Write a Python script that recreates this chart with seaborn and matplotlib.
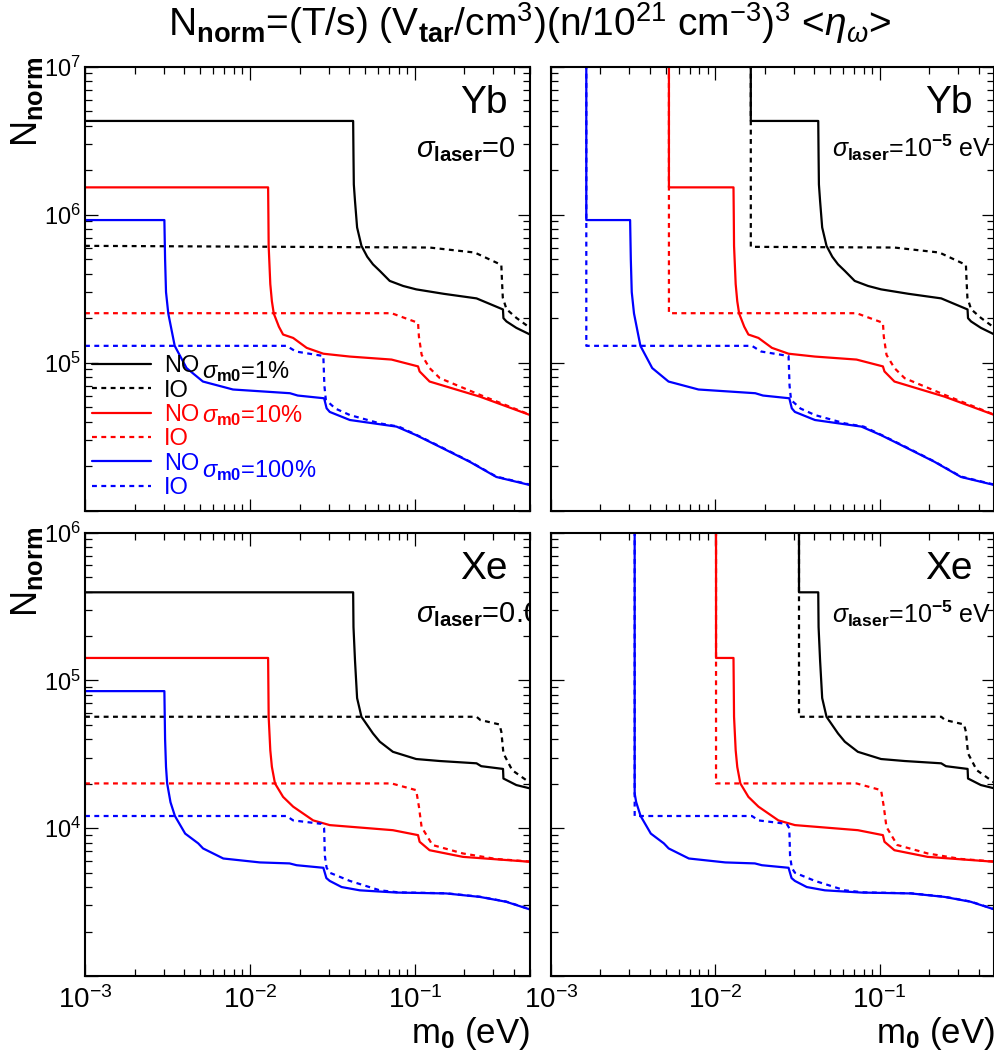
import numpy as np
import matplotlib
matplotlib.use('Agg')
import matplotlib.pyplot as plt
import seaborn as sns
from matplotlib.ticker import LogLocator, NullFormatter

# --- Yb, sigma_laser = 0 ---
yb_k_no_x = [1e-3, 0.0423, 0.0425, 0.0427, 0.0434, 0.0447, 0.0475, 0.0515, 0.0558, 0.0614, 0.0705, 0.085,
             0.102, 0.15, 0.237, 0.3427, 0.345, 0.36, 0.413, 0.5]
yb_k_no_y = [4.3e6, 4.3e6, 2.5e6, 1.6e6, 1.24e6, 8.2e5, 6.16e5, 5.2e5, 4.62e5, 4.17e5, 3.57e5, 3.3e5,
             3.13e5, 2.92e5, 2.72e5, 2.29e5, 2.0e5, 1.9e5, 1.72e5, 1.55e5]
yb_k_io_x = [1e-3, 0.123, 0.231, 0.335, 0.338, 0.342, 0.36, 0.413, 0.5]
yb_k_io_y = [6.16e5, 6.0e5, 5.55e5, 4.58e5, 3.6e5, 2.75e5, 2.3e5, 2.01e5, 1.72e5]
yb_r_no_x = [1e-3, 0.0129, 0.01295, 0.0130, 0.0133, 0.0136, 0.01396, 0.0150, 0.0159, 0.0183, 0.0221,
             0.0279, 0.0404, 0.0723, 0.1047, 0.107, 0.123, 0.248, 0.5]
yb_r_no_y = [1.53e6, 1.53e6, 1.0e6, 6.16e5, 3.4e5, 2.6e5, 2.15e5, 1.75e5, 1.55e5, 1.47e5, 1.26e5,
             1.15e5, 1.10e5, 1.05e5, 9.44e4, 8.73e4, 7.46e4, 5.9e4, 4.43e4]
yb_r_io_x = [1e-3, 0.0723, 0.1047, 0.106, 0.1101, 0.123, 0.142, 0.248, 0.5]
yb_r_io_y = [2.16e5, 2.16e5, 1.86e5, 1.5e5, 1.13e5, 9.2e4, 7.86e4, 6.07e4, 4.45e4]
yb_b_no_x = [1e-3, 3.03e-3, 3.06e-3, 3.1e-3, 3.2e-3, 3.5e-3, 4.13e-3, 5.19e-3, 7.9e-3, 0.0175, 0.0195,
             0.0282, 0.0292, 0.0305, 0.0404, 0.0775, 0.102, 0.142, 0.2156, 0.3126, 0.5]
yb_b_no_y = [9.2e5, 9.2e5, 5.0e5, 3.0e5, 2.15e5, 1.30e5, 9.2e4, 7.46e4, 6.59e4, 6.22e4, 6.0e4,
             5.75e4, 4.92e4, 4.65e4, 4.1e4, 3.7e4, 3.24e4, 2.7e4, 2.14e4, 1.69e4, 1.49e4]
yb_b_io_x = [1e-3, 0.0167, 0.019, 0.0279, 0.0283, 0.0289, 0.033, 0.0404, 0.0614, 0.08, 0.102, 0.142,
             0.2156, 0.3126, 0.5]
yb_b_io_y = [1.30e5, 1.30e5, 1.19e5, 1.11e5, 7.0e4, 5.6e4, 4.9e4, 4.43e4, 3.89e4, 3.7e4, 3.26e4, 2.72e4,
             2.15e4, 1.70e4, 1.5e4]

# --- Xe, sigma_laser = 0 ---
xe_k_no_x = [1e-3, 0.0423, 0.0425, 0.0434, 0.0447, 0.0475, 0.0558, 0.0614, 0.0737, 0.102, 0.142, 0.237,
             0.253, 0.343, 0.345, 0.413, 0.5]
xe_k_no_y = [3.95e5, 3.95e5, 2.3e5, 1.37e5, 7.6e4, 5.68e4, 4.38e4, 3.85e4, 3.29e4, 2.94e4, 2.85e4, 2.75e4,
             2.63e4, 2.52e4, 2.17e4, 1.96e4, 1.86e4]
xe_k_io_x = [1e-3, 0.237, 0.25, 0.326, 0.335, 0.345, 0.39, 0.5]
xe_k_io_y = [5.68e4, 5.68e4, 5.4e4, 5.04e4, 4.5e4, 3.21e4, 2.47e4, 2.03e4]
xe_r_no_x = [1e-3, 0.0129, 0.01295, 0.0130, 0.0133, 0.0136, 0.0142, 0.0159, 0.0183, 0.0242, 0.0305,
             0.0737, 0.1047, 0.107, 0.123, 0.196, 0.5]
xe_r_no_y = [1.42e5, 1.42e5, 9.0e4, 5.68e4, 3.37e4, 2.6e4, 2.01e4, 1.63e4, 1.40e4, 1.13e4, 1.05e4,
             9.7e3, 8.98e3, 8.1e3, 7.1e3, 6.4e3, 5.93e3]
xe_r_io_x = [1e-3, 0.0723, 0.102, 0.106, 0.11, 0.128, 0.196, 0.31, 0.5]
xe_r_io_y = [2.01e4, 2.01e4, 1.81e4, 1.4e4, 1.02e4, 7.7e3, 6.75e3, 6.2e3, 5.95e3]
xe_b_no_x = [1e-3, 3.03e-3, 3.06e-3, 3.1e-3, 3.15e-3, 3.3e-3, 3.51e-3, 4.05e-3, 4.86e-3, 5.2e-3, 6.9e-3,
             0.0115, 0.0174, 0.0192, 0.0279, 0.0291, 0.0305, 0.036, 0.0464, 0.0775, 0.155, 0.248, 0.358, 0.5]
xe_b_no_y = [8.47e4, 8.47e4, 4.0e4, 2.6e4, 2.01e4, 1.5e4, 1.21e4, 9.2e3, 7.9e3, 7.3e3, 6.24e3,
             5.87e3, 5.78e3, 5.62e3, 5.4e3, 4.6e3, 4.4e3, 4.0e3, 3.8e3, 3.67e3, 3.62e3, 3.43e3, 3.18e3, 2.82e3]
xe_b_io_x = [1e-3, 0.0167, 0.0183, 0.0272, 0.0282, 0.0285, 0.0292, 0.0305, 0.0404, 0.0614, 0.08, 0.155,
             0.248, 0.358, 0.5]
xe_b_io_y = [1.21e4, 1.21e4, 1.13e4, 1.07e4, 1.0e4, 6.5e3, 5.4e3, 5.0e3, 4.4e3, 3.8e3, 3.68e3, 3.63e3,
             3.44e3, 3.19e3, 2.83e3]

# lower m0 limit for sigma_laser = 1e-5 eV (black, red, blue)
yb_cuts = [0.01644, 5.22e-3, 1.64e-3]
xe_cuts = [0.0323, 0.0101, 3.23e-3]

colors = ['black', '#ff0000', '#0000ff']
sigma_labels = [r'$\sigma_{\mathbf{m0}}$=1%', r'$\sigma_{\mathbf{m0}}$=10%', r'$\sigma_{\mathbf{m0}}$=100%']
x_ticks = [1e-3, 1e-2, 1e-1]
x_tick_labels = [r'$10^{-3}$', r'$10^{-2}$', r'$10^{-1}$']
yb_y_ticks = [1e4, 1e5, 1e6, 1e7]
yb_y_tick_labels = ['', r'$10^{5}$', r'$10^{6}$', r'$10^{7}$']
xe_y_ticks = [1e3, 1e4, 1e5, 1e6]
xe_y_tick_labels = ['', r'$10^{4}$', r'$10^{5}$', r'$10^{6}$']

sns.set_theme(style='ticks')
plt.rcParams['font.family'] = ['Liberation Sans', 'DejaVu Sans']
plt.rcParams['mathtext.fontset'] = 'custom'
plt.rcParams['mathtext.rm'] = 'Liberation Sans'
plt.rcParams['mathtext.it'] = 'Liberation Sans:italic'
plt.rcParams['mathtext.bf'] = 'Liberation Sans:bold'
plt.rcParams['mathtext.sf'] = 'Liberation Sans'
plt.rcParams['mathtext.fallback'] = 'stixsans'
plt.rcParams['axes.edgecolor'] = 'black'
plt.rcParams['axes.labelcolor'] = 'black'
plt.rcParams['text.color'] = 'black'
plt.rcParams['xtick.color'] = 'black'
plt.rcParams['ytick.color'] = 'black'

W, H = 995, 1059
fig = plt.figure(figsize=(W / 100, H / 100), dpi=100)
ax_tl = fig.add_axes([85 / W, 1 - 510.7 / H, 445 / W, 444 / H])
ax_tr = fig.add_axes([551 / W, 1 - 510.7 / H, 443.5 / W, 444 / H])
ax_bl = fig.add_axes([85 / W, 1 - 976 / H, 445 / W, 443.3 / H])
ax_br = fig.add_axes([551 / W, 1 - 976 / H, 443.5 / W, 443.3 / H])

yb_curves = [(yb_k_no_x, yb_k_no_y, yb_k_io_x, yb_k_io_y),
             (yb_r_no_x, yb_r_no_y, yb_r_io_x, yb_r_io_y),
             (yb_b_no_x, yb_b_no_y, yb_b_io_x, yb_b_io_y)]
xe_curves = [(xe_k_no_x, xe_k_no_y, xe_k_io_x, xe_k_io_y),
             (xe_r_no_x, xe_r_no_y, xe_r_io_x, xe_r_io_y),
             (xe_b_no_x, xe_b_no_y, xe_b_io_x, xe_b_io_y)]

dash = (0, (2.2, 2.0))


def cut_curve(x, y, xc):
    # below the cut the count goes to infinity -> vertical wall
    x = np.asarray(x)
    y = np.asarray(y)
    yc = 10 ** np.interp(np.log10(xc), np.log10(x), np.log10(y))
    keep = x > xc
    return np.r_[xc, xc, x[keep]], np.r_[1e10, yc, y[keep]]


def setup(ax, ylim, yticks, ylabels, show_x, show_y):
    ax.set_xscale('log')
    ax.set_yscale('log')
    ax.set_xticks(x_ticks)
    ax.set_xticklabels(x_tick_labels if show_x else [''] * 3)
    ax.set_yticks(yticks)
    ax.set_yticklabels(ylabels if show_y else [''] * len(yticks))
    ax.xaxis.set_minor_locator(LogLocator(base=10, subs=np.arange(2, 10), numticks=20))
    ax.yaxis.set_minor_locator(LogLocator(base=10, subs=np.arange(2, 10), numticks=20))
    ax.xaxis.set_minor_formatter(NullFormatter())
    ax.yaxis.set_minor_formatter(NullFormatter())
    ax.set_xlim(1e-3, 0.5)
    ax.set_ylim(*ylim)
    ax.tick_params(which='both', direction='in', top=True, right=True, width=0.9)
    ax.tick_params(which='major', length=9)
    ax.tick_params(which='minor', length=5)
    ax.tick_params(axis='x', labelsize=20, pad=7)
    ax.tick_params(axis='y', labelsize=17, pad=3)
    for s in ax.spines.values():
        s.set_linewidth(1.5)
        s.set_color('black')
    ax.set_xlabel('')
    ax.set_ylabel('')


def draw(ax, curves, cuts=None, legend=False):
    ax.set_xscale('log')
    ax.set_yscale('log')
    for i, (xn, yn, xi, yi) in enumerate(curves):
        if cuts is not None:
            xn, yn = cut_curve(xn, yn, cuts[i])
            xi, yi = cut_curve(xi, yi, cuts[i])
        sns.lineplot(x=xn, y=yn, ax=ax, color=colors[i], linewidth=1.6, estimator=None,
                     sort=False, label='NO' if legend else None, legend=False)
        sns.lineplot(x=xi, y=yi, ax=ax, color=colors[i], linewidth=1.6, linestyle=dash,
                     estimator=None, sort=False, label='IO' if legend else None, legend=False)


draw(ax_tl, yb_curves, legend=True)
draw(ax_tr, yb_curves, cuts=yb_cuts)
draw(ax_bl, xe_curves)
draw(ax_br, xe_curves, cuts=xe_cuts)

setup(ax_tl, (1e4, 1e7), yb_y_ticks, yb_y_tick_labels, False, True)
setup(ax_tr, (1e4, 1e7), yb_y_ticks, yb_y_tick_labels, False, False)
setup(ax_bl, (1e3, 1e6), xe_y_ticks, xe_y_tick_labels, True, True)
setup(ax_br, (1e3, 1e6), xe_y_ticks, xe_y_tick_labels, True, False)

# legend with the NO / IO entries
ax_tl.legend(loc='upper left', bbox_to_anchor=(0.016, 0.35), frameon=False, fontsize=17,
             handlelength=2.5, handletextpad=0.55, labelspacing=0.1, borderpad=0,
             borderaxespad=0, labelcolor='linecolor')
for lab, c, yy in zip(sigma_labels, colors, [0.299, 0.2005, 0.0766]):
    ax_tl.text(0.262, yy, lab, transform=ax_tl.transAxes, color=c, fontsize=17,
               ha='left', va='baseline')

# element + sigma_laser annotations
for ax, el in [(ax_tl, 'Yb'), (ax_tr, 'Yb'), (ax_bl, 'Xe'), (ax_br, 'Xe')]:
    ax.text(0.95, 0.896, el, transform=ax.transAxes, fontsize=28, ha='right', va='baseline')
ax_tl.text(0.744, 0.797, r'$\sigma_{\mathbf{laser}}$=0', transform=ax_tl.transAxes,
           fontsize=21, ha='left', va='baseline', clip_on=True)
ax_bl.text(0.744, 0.799, r'$\sigma_{\mathbf{laser}}$=0.0', transform=ax_bl.transAxes,
           fontsize=21, ha='left', va='baseline', clip_on=True)
for ax in [ax_tr, ax_br]:
    ax.text(0.633, 0.797, r'$\sigma_{\mathbf{laser}}$=10$^{\mathbf{-5}}$ eV', transform=ax.transAxes,
            fontsize=18, ha='left', va='baseline', clip_on=True)

# axis titles
for ax, ytop in [(ax_tl, 1.022), (ax_bl, 1.013)]:
    ax.set_ylabel(r'N$_{\mathbf{norm}}$', fontsize=26, loc='top')
    ax.yaxis.set_label_coords(-0.09, ytop)
for ax in [ax_bl, ax_br]:
    ax.set_xlabel(r'm$_{\mathbf{0}}$ (eV)', fontsize=25, loc='right')
    ax.xaxis.set_label_coords(1.0, -0.088)

fig.text(0.532, 1 - 36 / H,
         r'N$_{\mathbf{norm}}$=(T/s) (V$_{\mathbf{tar}}$/cm$^{3}$)(n/10$^{21}$ cm$^{-3}$)$^{3}$ <$\eta_{\omega}$>',
         ha='center', va='baseline', fontsize=28)

fig.savefig('out.png', dpi=100)
